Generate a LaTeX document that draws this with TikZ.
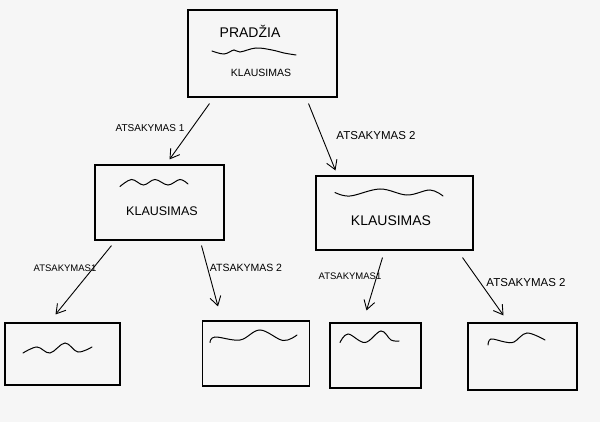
\documentclass[tikz,border=0pt]{standalone}
\usepackage{fontspec}
\setmainfont{Liberation Sans}
\usetikzlibrary{arrows.meta}
\begin{document}
\begin{tikzpicture}[x=1pt,y=-1pt,
  box/.style={draw, line width=1.1pt, inner sep=0pt},
  wave/.style={line width=1pt, line cap=round, tension=0.6},
  conn/.style={line width=0.9pt, -{Straight Barb[length=9pt,width=11pt,line width=0.9pt]}},
  lab/.style={inner sep=0pt, font=\fontsize{#1}{#1}\selectfont},
  lab/.default=10,
  ttl/.style={inner sep=0pt, font=\fontsize{#1}{#1}\selectfont}
]
\fill[gray!7] (0,0) rectangle (600,422);
\useasboundingbox (0,0) rectangle (600,422);

% boxes
\node[box, minimum width=149pt, minimum height=87pt] (top) at (262.5,53.5) {};
\node[box, minimum width=129pt, minimum height=75pt] (ml) at (159.5,202.5) {};
\node[box, minimum width=157pt, minimum height=74pt] (mr) at (394.5,213) {};
\node[box, minimum width=115pt, minimum height=62pt] (b1) at (62.5,354) {};
\node[box, minimum width=107pt, minimum height=65pt] (b2) at (256,353.5) {};
\node[box, minimum width=91pt, minimum height=65pt] (b3) at (375.5,355.5) {};
\node[box, minimum width=109pt, minimum height=67pt] (b4) at (522.5,356.5) {};

% texts in boxes
\node[ttl=14] (t1) at (250,31) {PRADŽIA};
\node[ttl=10.5] (t2) at (261,73) {KLAUSIMAS};
\node[ttl=12.5] (t3) at (162,211) {KLAUSIMAS};
\node[ttl=14] (t4) at (391,221) {KLAUSIMAS};

% waves
\draw[wave] plot[smooth] coordinates {(212,51) (224,54) (234,50) (240,52) (256,48) (272,50) (284,53) (296,55)};
\draw[wave] plot[smooth] coordinates {(120,186.5) (131.5,179.5) (143.5,185) (155,179.5) (168,185) (180,179.5) (188,184)};
\draw[wave] plot[smooth] coordinates {(335,192.5) (350,196) (380,189) (407,195) (430,190) (443,196)};
\draw[wave] plot[smooth] coordinates {(23,353) (37,347) (50,353) (65,343) (78,352) (92,347)};
\draw[wave] plot[smooth] coordinates {(210,342.5) (215,337) (240,340) (260,330) (283,340.5) (297,335)};
\draw[wave] plot[smooth] coordinates {(340,342.5) (348,334) (365,342.5) (381,331) (391,340) (399,341)};
\draw[wave] plot[smooth] coordinates {(488,345) (491,339) (505,342) (514,342) (527,333) (545,340)};

% connectors
\draw[conn] ([xshift=-53pt,yshift=-6pt]top.south) -- ([xshift=10pt,yshift=5pt]ml.north);
\draw[conn] ([xshift=46pt,yshift=-6pt]top.south) -- ([xshift=-59pt,yshift=5pt]mr.north);
\draw[conn] ([xshift=-48pt,yshift=-5pt]ml.south) -- ([xshift=-7pt,yshift=8pt]b1.north);
\draw[conn] ([xshift=42pt,yshift=-5pt]ml.south) -- ([xshift=-38pt,yshift=14pt]b2.north);
\draw[conn] ([xshift=-12pt,yshift=-7pt]mr.south) -- ([xshift=-9pt,yshift=12pt]b3.north);
\draw[conn] ([xshift=68pt,yshift=-7pt]mr.south) -- ([xshift=-19pt,yshift=7pt]b4.north);

% connector labels
\node[lab=10] (l1) at (150,128) {ATSAKYMAS 1};
\node[lab=11.5] (l2) at (376,136) {ATSAKYMAS 2};
\node[lab=9.5] (l3) at (65,268) {ATSAKYMAS1};
\node[lab=10.5] (l4) at (246,268) {ATSAKYMAS 2};
\node[lab=9.5] (l5) at (350,276) {ATSAKYMAS1};
\node[lab=11.5] (l6) at (526,283) {ATSAKYMAS 2};
\end{tikzpicture}
\end{document}
